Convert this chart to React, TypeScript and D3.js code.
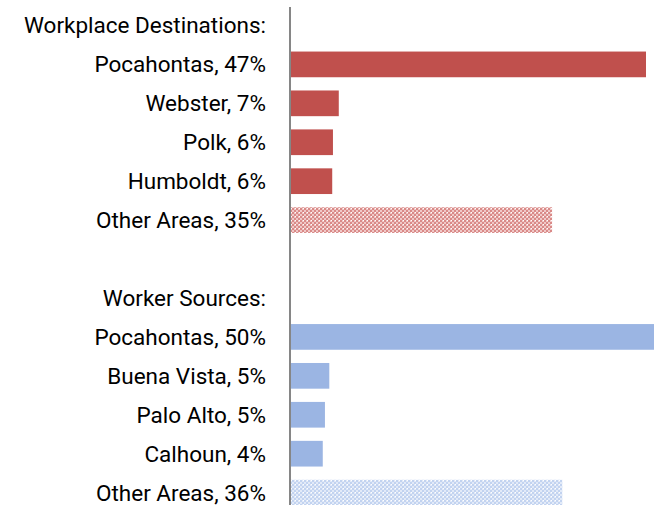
import React, { useRef, useEffect } from "react";
import * as d3 from "d3";

// rows top to bottom, "" rows are section headers / spacer
const labels = [
  "Workplace Destinations:",
  "Pocahontas, 47%",
  "Webster, 7%",
  "Polk, 6%",
  "Humboldt, 6%",
  "Other Areas, 35%",
  "",
  "Worker Sources:",
  "Pocahontas, 50%",
  "Buena Vista, 5%",
  "Palo Alto, 5%",
  "Calhoun, 4%",
  "Other Areas, 36%",
];
// bar lengths (percent), null = no bar
const values: (number | null)[] = [null, 48.9, 6.7, 5.9, 5.8, 36.0, null, null, 50.0, 5.4, 4.8, 4.5, 37.4];
// which group the bar belongs to
const groups = ["", "dest", "dest", "dest", "dest", "destOther", "", "", "src", "src", "src", "src", "srcOther"];

const width = 654;
const height = 505;

const App: React.FC = () => {
  const svgRef = useRef<SVGSVGElement | null>(null);

  useEffect(() => {
    const svg = d3.select(svgRef.current);
    svg.selectAll("*").remove();

    const x0 = 290;
    const x = d3.scaleLinear().domain([0, 50]).range([x0, 654]);
    const y = d3
      .scaleBand<number>()
      .domain(d3.range(labels.length))
      .range([6, 6 + 38.93 * labels.length])
      .paddingInner(0.34)
      .paddingOuter(0.17);

    const defs = svg.append("defs");
    const mkPattern = (id: string, light: string, dark: string) => {
      const p = defs
        .append("pattern")
        .attr("id", id)
        .attr("patternUnits", "userSpaceOnUse")
        .attr("width", 4)
        .attr("height", 4);
      p.append("rect").attr("width", 4).attr("height", 4).attr("fill", light);
      p.append("rect").attr("width", 2).attr("height", 2).attr("fill", dark);
      p.append("rect").attr("x", 2).attr("y", 2).attr("width", 2).attr("height", 2).attr("fill", dark);
      p.append("rect").attr("x", 3).attr("y", 0).attr("width", 1).attr("height", 1).attr("fill", "#fff");
    };
    mkPattern("hatchRed", "#f0c8c7", "#d98a88");
    mkPattern("hatchBlue", "#e2eaf8", "#c2d3f0");

    const fillFor: Record<string, string> = {
      dest: "#c0504d",
      destOther: "url(#hatchRed)",
      src: "#9bb5e3",
      srcOther: "url(#hatchBlue)",
    };

    const rows = labels.map((l, i) => ({ i, label: l, value: values[i], group: groups[i] }));

    svg
      .append("g")
      .selectAll("rect")
      .data(rows.filter((d) => d.value !== null))
      .enter()
      .append("rect")
      .attr("x", x(0))
      .attr("y", (d) => y(d.i)!)
      .attr("width", (d) => x(d.value as number) - x(0))
      .attr("height", y.bandwidth())
      .attr("fill", (d) => fillFor[d.group]);

    svg
      .append("g")
      .selectAll("text")
      .data(rows)
      .enter()
      .append("text")
      .attr("x", 266)
      .attr("y", (d) => y(d.i)! + y.bandwidth() / 2)
      .attr("dy", 8)
      .attr("text-anchor", "end")
      .style("font-family", "Roboto, 'Open Sans', sans-serif")
      .style("font-size", "22.5px")
      .style("fill", "#000")
      .text((d) => d.label);

    svg
      .append("line")
      .attr("x1", x0)
      .attr("x2", x0)
      .attr("y1", 7)
      .attr("y2", height)
      .attr("stroke", "#868686")
      .attr("stroke-width", 2);
  }, []);

  return (
    <svg
      ref={svgRef}
      width={width}
      height={height}
      style={{ position: "absolute", left: 0, top: 0, background: "#fff" }}
    ></svg>
  );
};

export default App;
